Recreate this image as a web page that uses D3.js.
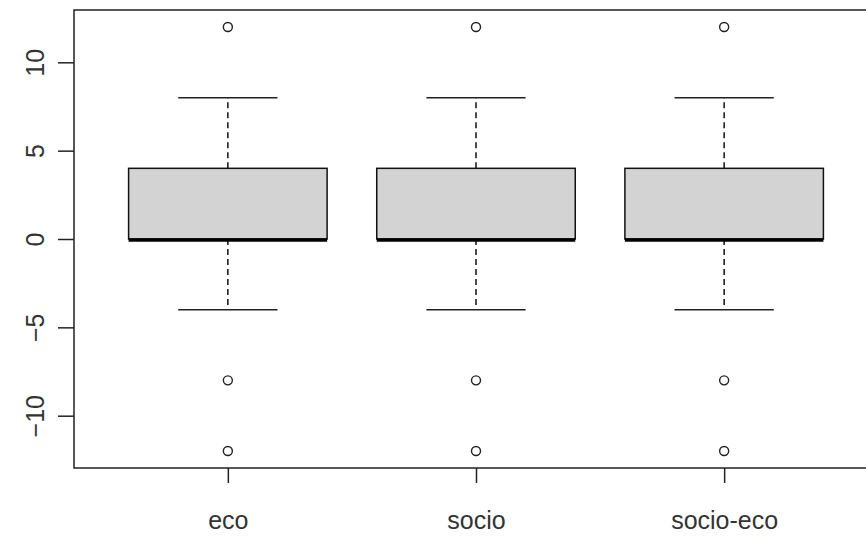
<!DOCTYPE html>
<html>
<head>
<meta charset="utf-8">
<script src="https://cdn.jsdelivr.net/npm/d3@7"></script>
<style>
  body { margin: 0; background: #fff; }
  text { font-family: "Liberation Sans", Arial, sans-serif; fill: #333; }
</style>
</head>
<body>
<div id="chart"></div>
<script>
// groups and their five-number summaries
const groups = ["eco", "socio", "socio-eco"];
const lowerWhisker = [-4, -4, -4];
const q1 = [0, 0, 0];
const median = [0, 0, 0];
const q3 = [4, 4, 4];
const upperWhisker = [8, 8, 8];
const outliers = [[12, -8, -12], [12, -8, -12], [12, -8, -12]];
const yTicks = [-10, -5, 0, 5, 10];

const width = 866, height = 536;
const plot = { left: 74, top: 10, right: 878, bottom: 468 };

const svg = d3.select("#chart").append("svg")
    .attr("width", width)
    .attr("height", height);

// R style: positions 1..n, xlim 0.5..n+0.5 with 4% padding
const x = d3.scaleLinear()
    .domain([0.38, 3.62])
    .range([plot.left, plot.right]);

const y = d3.scaleLinear()
    .domain([-12.96, 12.96])
    .range([plot.bottom, plot.top]);

const data = groups.map((g, i) => ({
    name: g, pos: i + 1,
    lo: lowerWhisker[i], q1: q1[i], med: median[i], q3: q3[i], hi: upperWhisker[i],
    out: outliers[i]
}));

const boxHalf = 0.4, capHalf = 0.2;

const g = svg.append("g");

// whiskers (dashed)
g.selectAll(".whisker-up")
    .data(data).enter().append("line")
    .attr("x1", d => x(d.pos)).attr("x2", d => x(d.pos))
    .attr("y1", d => y(d.q3)).attr("y2", d => y(d.hi))
    .attr("stroke", "#111").attr("stroke-width", 1.5).attr("stroke-dasharray", "6,4");
g.selectAll(".whisker-down")
    .data(data).enter().append("line")
    .attr("x1", d => x(d.pos)).attr("x2", d => x(d.pos))
    .attr("y1", d => y(d.q1)).attr("y2", d => y(d.lo))
    .attr("stroke", "#111").attr("stroke-width", 1.5).attr("stroke-dasharray", "6,4");

// staples
g.selectAll(".cap-hi")
    .data(data).enter().append("line")
    .attr("x1", d => x(d.pos - capHalf)).attr("x2", d => x(d.pos + capHalf))
    .attr("y1", d => y(d.hi)).attr("y2", d => y(d.hi))
    .attr("stroke", "#222").attr("stroke-width", 1.5);
g.selectAll(".cap-lo")
    .data(data).enter().append("line")
    .attr("x1", d => x(d.pos - capHalf)).attr("x2", d => x(d.pos + capHalf))
    .attr("y1", d => y(d.lo)).attr("y2", d => y(d.lo))
    .attr("stroke", "#222").attr("stroke-width", 1.5);

// boxes
g.selectAll(".box")
    .data(data).enter().append("rect")
    .attr("x", d => x(d.pos - boxHalf))
    .attr("y", d => y(d.q3))
    .attr("width", d => x(d.pos + boxHalf) - x(d.pos - boxHalf))
    .attr("height", d => y(d.q1) - y(d.q3))
    .attr("fill", "#d3d3d3")
    .attr("stroke", "#111").attr("stroke-width", 1.5);

// medians
g.selectAll(".median")
    .data(data).enter().append("line")
    .attr("x1", d => x(d.pos - boxHalf)).attr("x2", d => x(d.pos + boxHalf))
    .attr("y1", d => y(d.med) + 1).attr("y2", d => y(d.med) + 1)
    .attr("stroke", "#000").attr("stroke-width", 3.5);

// outliers
data.forEach(d => {
    g.selectAll(null)
        .data(d.out).enter().append("circle")
        .attr("cx", x(d.pos))
        .attr("cy", v => y(v))
        .attr("r", 4.5)
        .attr("fill", "none")
        .attr("stroke", "#222").attr("stroke-width", 1.4);
});

// frame
svg.append("rect")
    .attr("x", plot.left).attr("y", plot.top)
    .attr("width", plot.right - plot.left)
    .attr("height", plot.bottom - plot.top)
    .attr("fill", "none")
    .attr("stroke", "#222").attr("stroke-width", 1.5);

// y axis
const yAxis = svg.append("g")
    .attr("transform", `translate(${plot.left},0)`)
    .call(d3.axisLeft(y).tickValues(yTicks).tickSize(16).tickPadding(0).tickFormat(d3.format("d")));
yAxis.select(".domain").remove();
yAxis.selectAll(".tick line").attr("stroke", "#222").attr("stroke-width", 1.5);
yAxis.selectAll(".tick text")
    .attr("x", 0).attr("dy", null)
    .attr("transform", "translate(-37,0) rotate(-90)")
    .attr("text-anchor", "middle")
    .attr("dominant-baseline", "middle")
    .style("font-size", "25px");

// x axis
const xAxis = svg.append("g")
    .attr("transform", `translate(0,${plot.bottom})`)
    .call(d3.axisBottom(x).tickValues([1, 2, 3]).tickSize(15).tickPadding(0)
        .tickFormat(d => groups[d - 1]));
xAxis.select(".domain").remove();
xAxis.selectAll(".tick line").attr("stroke", "#222").attr("stroke-width", 1.5);
xAxis.selectAll(".tick text")
    .attr("y", 61).attr("dy", null)
    .style("font-size", "25px");
</script>
</body>
</html>
